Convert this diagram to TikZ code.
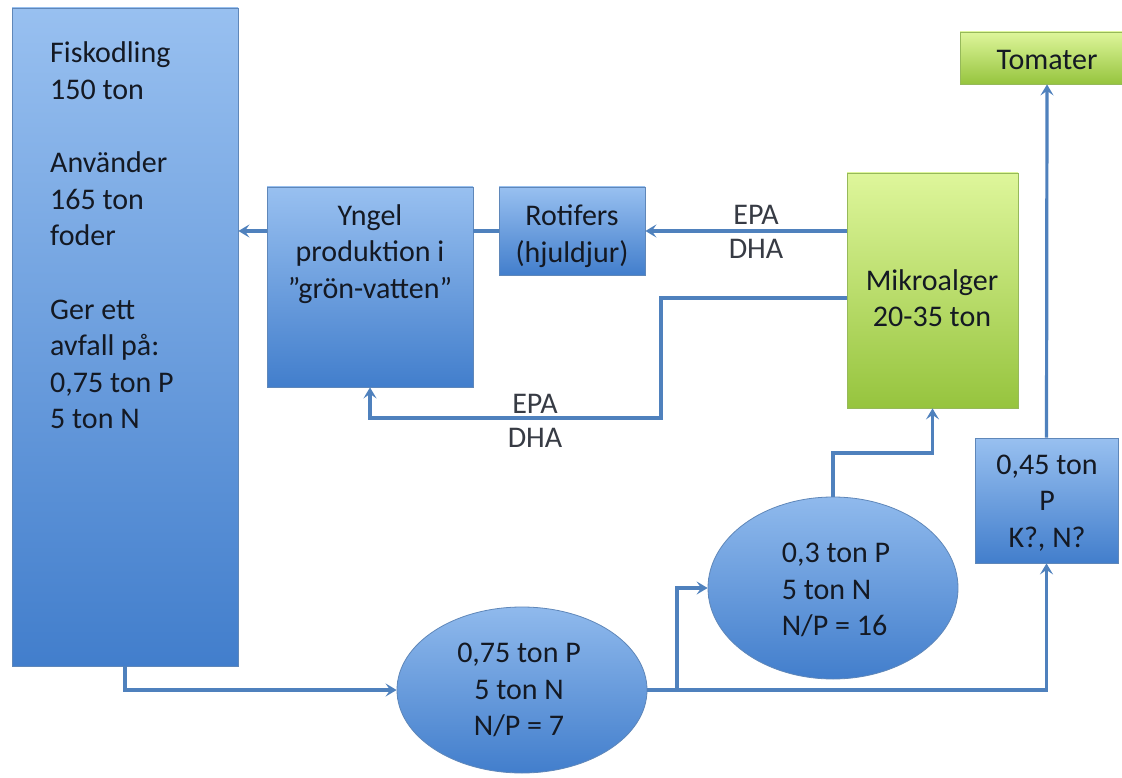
\documentclass[tikz,border=0pt]{standalone}
\usepackage{fontspec}
\setmainfont{Carlito}
\usetikzlibrary{arrows.meta,shapes.geometric,calc}
\definecolor{bluetop}{RGB}{152,192,240}
\definecolor{bluebot}{RGB}{66,126,204}
\definecolor{bluebord}{RGB}{95,135,185}
\definecolor{greentop}{RGB}{222,246,155}
\definecolor{greenbot}{RGB}{150,196,62}
\definecolor{greenbord}{RGB}{150,185,90}
\definecolor{linecol}{RGB}{79,129,189}
\definecolor{textcol}{RGB}{20,25,35}
\begin{document}
\begin{tikzpicture}[x=1pt,y=-1pt,
  box/.style={rectangle, inner sep=0pt, line width=0.8pt},
  bluefill/.style={draw=bluebord, top color=bluetop, bottom color=bluebot},
  greenfill/.style={draw=greenbord, top color=greentop, bottom color=greenbot},
  ell/.style={ellipse, inner sep=0pt, line width=0.8pt, draw=bluebord, top color=bluetop!90!bluebot, bottom color=bluebot},
  txt/.style={font=\fontsize{30}{36.6}\selectfont, text=textcol, inner sep=0pt},
  lbl/.style={font=\fontsize{30}{34}\selectfont, text=textcol!85!white, inner sep=0pt, align=center},
  conn/.style={draw=linecol, line width=3.2pt},
  arr/.style={conn, -{Stealth[length=11pt,width=13pt,inset=4.5pt]}}]
\useasboundingbox (0,0) rectangle (1122,778);
\fill[white] (0,0) rectangle (1122,778);

% boxes
\node[box,bluefill,minimum width=226pt,minimum height=658pt] (fisk) at (125,337) {};
\node[box,bluefill,minimum width=206pt,minimum height=200pt] (yng) at (370,287) {};
\node[box,bluefill,minimum width=146pt,minimum height=88pt] (rot) at (572,231) {};
\node[box,greenfill,minimum width=171pt,minimum height=235pt] (mik) at (932.5,290.5) {};
\node[box,greenfill,minimum width=174pt,minimum height=52pt] (tom) at (1047,58) {};
\node[box,bluefill,minimum width=143pt,minimum height=125pt] (qb) at (1046.5,500.5) {};
\node[ell,minimum width=250pt,minimum height=166pt] (e1) at (522,690) {};
\node[ell,minimum width=250pt,minimum height=182pt] (e2) at (833,588) {};

% texts
\node[txt,align=left,anchor=west] (tfisk) at (50,235.5) {Fiskodling\\150 ton\\[36.6pt]Använder\\165 ton\\foder\\[36.6pt]Ger ett\\avfall på:\\0,75 ton P\\5 ton N};
\node[txt,align=center] (tyng) at (370,254) {Yngel\\produktion i\\”grön-vatten”};
\node[txt,align=center] (trot) at (572,236) {Rotifers\\(hjuldjur)};
\node[txt,align=center] (tmik) at (932,298) {Mikroalger\\20-35 ton};
\node[txt,anchor=base] (ttom) at (1047,70) {Tomater};
\node[txt,align=center] (tqb) at (1047,503) {0,45 ton\\P\\K?, N?};
\node[txt,align=center] (te1) at (519,690) {0,75 ton P\\5 ton N\\N/P = 7};
\node[txt,align=left] (te2) at (836,590) {0,3 ton P\\5 ton N\\N/P = 16};
\node[lbl] (l1) at (756,232) {EPA\\DHA};
\node[lbl] (l2) at (535,420.5) {EPA\\DHA};

% connectors
\coordinate (br) at (677,690);
\coordinate (m1) at (833,453);
\coordinate (lowR) at (661,298);
\coordinate (lowB) at (661,418);

\draw[arr] (fisk.south) |- (e1.west);
\draw[arr] (e1.east) -| (qb.south);
\draw[arr] (br) |- (e2.west);
\draw[arr] (e2.north) -- (m1) -| (mik.south);
\draw[arr] (qb.north) -- (tom.south);
\draw[arr] (mik.west |- rot.east) -- (rot.east);
\draw[conn] (rot.west) -- (yng.east |- rot.west);
\draw[arr] (yng.west |- rot.west) -- (fisk.east |- rot.west);
\draw[arr] (mik.west |- lowR) -- (lowR) -- (lowB) -| (yng.south);
\end{tikzpicture}
\end{document}
